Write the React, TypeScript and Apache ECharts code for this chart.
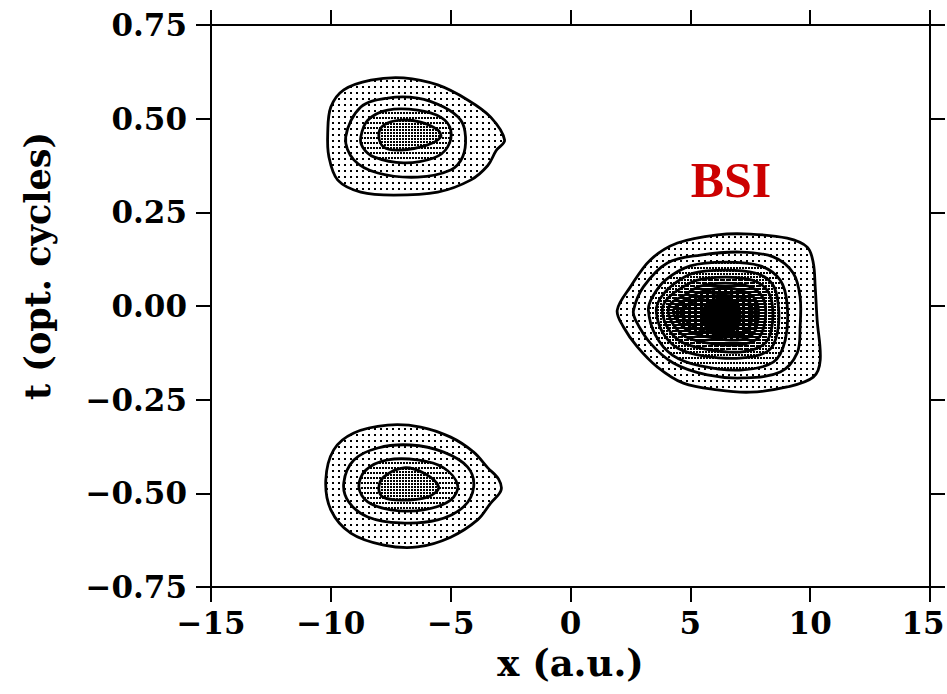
import React, { useEffect, useRef } from 'react';
import * as echarts from 'echarts';

// Axis ranges / ticks
const X_MIN = -15;
const X_MAX = 15;
const X_STEP = 5;
const T_MIN = -0.75;
const T_MAX = 0.75;
const T_STEP = 0.25;

// ---- BSI lobe (x ≈ 6, t ≈ 0): nested contours, outer → inner, [x, t]
const BSI_L1 = [[1.95,-0.011],[2.21,-0.056],[2.79,-0.109],[3.63,-0.163],[4.71,-0.206],[6.13,-0.224],[7.5,-0.230],[9.04,-0.216],[10.13,-0.190],[10.42,-0.144],[10.29,-0.037],[10.21,0.051],[10.13,0.115],[9.88,0.157],[9.04,0.181],[7.5,0.192],[6.13,0.190],[4.46,0.168],[3.33,0.123],[2.5,0.051]];
const BSI_L2 = [[2.63,-0.011],[2.71,-0.037],[3.33,-0.099],[4.29,-0.152],[5.71,-0.184],[7.21,-0.192],[8.75,-0.176],[9.46,-0.125],[9.58,-0.056],[9.58,0.024],[9.29,0.088],[8.46,0.131],[7.08,0.144],[5.42,0.136],[4.04,0.115],[3.04,0.051]];
const BSI_L3 = [[3.25,-0.011],[3.54,-0.077],[4.25,-0.131],[5.42,-0.160],[7.08,-0.171],[8.46,-0.150],[8.96,-0.091],[9.04,0.003],[8.75,0.069],[7.92,0.107],[6.46,0.117],[5.0,0.107],[3.96,0.069],[3.42,0.024]];
const BSI_L4 = [[3.58,-0.013],[3.83,-0.069],[4.46,-0.112],[5.54,-0.133],[7.08,-0.139],[8.25,-0.120],[8.63,-0.072],[8.67,0.003],[8.42,0.059],[7.71,0.088],[6.46,0.096],[5.13,0.088],[4.25,0.056],[3.75,0.021]];
const BSI_L5 = [[3.83,-0.013],[4.08,-0.061],[4.63,-0.096],[5.63,-0.115],[7.08,-0.123],[8.04,-0.104],[8.38,-0.064],[8.42,0.003],[8.17,0.045],[7.58,0.069],[6.46,0.077],[5.29,0.069],[4.5,0.043],[4.0,0.016]];
const BSI_L6 = [[4.08,-0.016],[4.33,-0.053],[4.83,-0.083],[5.75,-0.099],[7.0,-0.104],[7.79,-0.088],[8.08,-0.053],[8.13,0.0],[7.92,0.032],[7.42,0.053],[6.46,0.061],[5.42,0.053],[4.75,0.029],[4.21,0.008]];
const BSI_L7 = [[4.29,-0.016],[4.58,-0.048],[5.08,-0.072],[5.92,-0.085],[6.96,-0.091],[7.58,-0.077],[7.79,-0.048],[7.83,-0.003],[7.63,0.024],[7.21,0.040],[6.46,0.048],[5.54,0.040],[4.92,0.021],[4.46,0.003]];
const BSI_L8 = [[4.58,-0.019],[4.92,-0.045],[5.42,-0.064],[6.17,-0.075],[6.96,-0.077],[7.38,-0.064],[7.54,-0.043],[7.58,-0.008],[7.42,0.013],[7.0,0.024],[6.33,0.029],[5.63,0.024],[5.08,0.011],[4.75,-0.003]];
const BSI_L9 = [[5.5,-0.027],[5.75,-0.061],[6.33,-0.069],[6.92,-0.059],[7.08,-0.024],[6.88,0.011],[6.25,0.019],[5.71,0.005]];

// ---- upper-left lobe (x ≈ -7, t ≈ 0.45)
const UP_L1 = [[-10.13,0.462],[-10.0,0.531],[-9.46,0.577],[-8.33,0.603],[-6.96,0.609],[-5.54,0.590],[-4.29,0.550],[-3.33,0.504],[-2.75,0.443],[-3.1,0.415],[-3.45,0.375],[-4.17,0.336],[-5.54,0.304],[-7.38,0.296],[-8.75,0.304],[-9.71,0.336],[-10.08,0.398]];
const UP_L2 = [[-9.38,0.451],[-8.75,0.531],[-7.63,0.555],[-6.38,0.555],[-5.29,0.531],[-4.58,0.496],[-4.38,0.451],[-4.5,0.398],[-5.0,0.363],[-6.38,0.344],[-8.04,0.355],[-9.04,0.390]];
const UP_L3 = [[-8.75,0.451],[-8.46,0.496],[-7.63,0.523],[-6.38,0.523],[-5.42,0.504],[-5.0,0.470],[-5.13,0.424],[-5.71,0.395],[-6.96,0.382],[-8.21,0.398],[-8.67,0.424]];
const UP_L4 = [[-8.0,0.456],[-7.79,0.483],[-7.08,0.496],[-6.25,0.491],[-5.54,0.470],[-5.42,0.451],[-5.96,0.430],[-7.08,0.416],[-7.79,0.424]];

// ---- lower-left lobe (x ≈ -7, t ≈ -0.48)
const LO_L1 = [[-10.21,-0.464],[-9.88,-0.384],[-9.04,-0.339],[-7.63,-0.318],[-6.25,-0.323],[-5.0,-0.350],[-4.04,-0.390],[-3.45,-0.432],[-3.0,-0.462],[-2.9,-0.492],[-3.33,-0.526],[-3.88,-0.571],[-5.0,-0.617],[-6.38,-0.643],[-7.79,-0.638],[-9.17,-0.606],[-10.0,-0.544]];
const LO_L2 = [[-9.46,-0.472],[-9.04,-0.411],[-8.04,-0.379],[-6.67,-0.371],[-5.29,-0.390],[-4.29,-0.430],[-4.04,-0.483],[-4.46,-0.536],[-5.54,-0.571],[-7.08,-0.579],[-8.46,-0.563],[-9.25,-0.523]];
const LO_L3 = [[-8.83,-0.483],[-8.54,-0.438],[-7.63,-0.411],[-6.38,-0.411],[-5.29,-0.432],[-4.71,-0.478],[-5.0,-0.518],[-6.13,-0.544],[-7.5,-0.544],[-8.46,-0.523]];
const LO_L4 = [[-8.0,-0.486],[-7.79,-0.456],[-6.96,-0.432],[-6.13,-0.446],[-5.5,-0.483],[-5.96,-0.510],[-7.08,-0.518],[-7.83,-0.510]];

const BSI_CONTOURS = [BSI_L1, BSI_L2, BSI_L3, BSI_L4, BSI_L5, BSI_L6, BSI_L7, BSI_L8, BSI_L9];
const UP_CONTOURS = [UP_L1, UP_L2, UP_L3, UP_L4];
const LO_CONTOURS = [LO_L1, LO_L2, LO_L3, LO_L4];

const LABEL_TEXT = 'BSI';
const X_NAME = 'x (a.u.)';
const Y_NAME = 't (opt. cycles)';

function makePattern(w: number, h: number, marks: number[][], bg = '#fff', fg = '#000') {
  const c = document.createElement('canvas');
  c.width = w;
  c.height = h;
  const ctx = c.getContext('2d')!;
  ctx.fillStyle = bg;
  ctx.fillRect(0, 0, w, h);
  ctx.fillStyle = fg;
  marks.forEach(([x, y, ww, hh]) => ctx.fillRect(x, y, ww, hh));
  return { image: c.toDataURL(), repeat: 'repeat', imageWidth: w, imageHeight: h };
}

const minus = (s: string) => s.replace('-', '\u2212');

export default function App() {
  const ref = useRef<HTMLDivElement>(null);
  useEffect(() => {
    if (!ref.current) return;
    const chart = echarts.init(ref.current, undefined, { renderer: 'svg' });

    const sparse = makePattern(6, 6, [[2, 2, 2, 2]]);
    const medium = makePattern(3, 5, [[1, 2, 2, 2]]);
    const mesh = makePattern(3, 3, [[0, 0, 2, 2]]);
    const dash = makePattern(6, 3, [[0, 0, 5, 2]]);
    const lines = makePattern(6, 3, [[0, 0, 6, 2]]);
    const dark = makePattern(6, 4, [[1, 2, 3, 1]], '#000', '#fff');
    const solid = '#000';

    const BSI_FILLS = [sparse, sparse, medium, mesh, dash, lines, dark, dark, solid];
    const SIDE_FILLS = [sparse, sparse, medium, mesh];

    const items: { pts: number[][]; fill: any }[] = [];
    BSI_CONTOURS.forEach((p, i) => items.push({ pts: p, fill: BSI_FILLS[i] }));
    UP_CONTOURS.forEach((p, i) => items.push({ pts: p, fill: SIDE_FILLS[i] }));
    LO_CONTOURS.forEach((p, i) => items.push({ pts: p, fill: SIDE_FILLS[i] }));

    const axisCommon = {
      type: 'value' as const,
      axisLine: { show: true, onZero: false, lineStyle: { color: '#000', width: 2 } },
      axisTick: { show: true, inside: false, length: 15, lineStyle: { color: '#000', width: 2 } },
      splitLine: { show: false },
    };
    const labelFont = {
      color: '#000',
      fontFamily: 'DejaVu Serif',
      fontWeight: 'bold' as const,
      fontSize: 31,
    };

    chart.setOption({
      animation: false,
      backgroundColor: '#fff',
      grid: { left: 211, right: 17, top: 25, bottom: 107, containLabel: false, outerBoundsMode: 'none' },
      xAxis: [
        {
          ...axisCommon,
          position: 'bottom',
          min: X_MIN,
          max: X_MAX,
          interval: X_STEP,
          axisLabel: {
            ...labelFont,
            margin: 20,
            formatter: (v: number) => (v === X_MAX ? '{m|' + String(v) + '}' : minus(String(v))),
            rich: {
              m: { ...labelFont, padding: [0, 14, 0, 0] },
            },
          },
          name: X_NAME,
          nameLocation: 'middle',
          nameGap: 57,
          nameTextStyle: { color: '#000', fontFamily: 'DejaVu Serif', fontWeight: 'bold', fontSize: 37 },
        },
        {
          ...axisCommon,
          position: 'top',
          min: X_MIN,
          max: X_MAX,
          interval: X_STEP,
          axisLabel: { show: false },
        },
      ],
      yAxis: [
        {
          ...axisCommon,
          position: 'left',
          min: T_MIN,
          max: T_MAX,
          interval: T_STEP,
          axisLabel: { ...labelFont, margin: 24, formatter: (v: number) => minus(v.toFixed(2)) },
        },
        {
          ...axisCommon,
          position: 'right',
          min: T_MIN,
          max: T_MAX,
          interval: T_STEP,
          axisLabel: { show: false },
        },
      ],
      graphic: [
        {
          type: 'text',
          x: 37,
          y: 266,
          rotation: Math.PI / 2,
          style: {
            text: Y_NAME,
            font: 'bold 35px "DejaVu Serif"',
            fill: '#000',
            textAlign: 'center',
            textVerticalAlign: 'middle',
          },
        },
        {
          type: 'text',
          x: 731,
          y: 180,
          style: {
            text: LABEL_TEXT,
            font: 'bold 50px "Liberation Serif"',
            fill: '#cc0000',
            textAlign: 'center',
            textVerticalAlign: 'middle',
          },
        },
      ],
      series: [
        {
          type: 'custom',
          xAxisIndex: 0,
          yAxisIndex: 0,
          data: items.map((it) => it.pts[0]),
          renderItem: (params: any, api: any) => {
            const it = items[params.dataIndex];
            const pts = it.pts.map((p) => api.coord(p));
            return {
              type: 'polygon',
              shape: { points: pts, smooth: 0.35 },
              style: { fill: it.fill, stroke: '#000', lineWidth: 2.8 },
            };
          },
        },
      ],
    });
    return () => chart.dispose();
  }, []);
  return (
    <div
      ref={ref}
      style={{ position: 'fixed', left: 0, top: 0, width: 947, height: 694, background: '#fff' }}
    />
  );
}
